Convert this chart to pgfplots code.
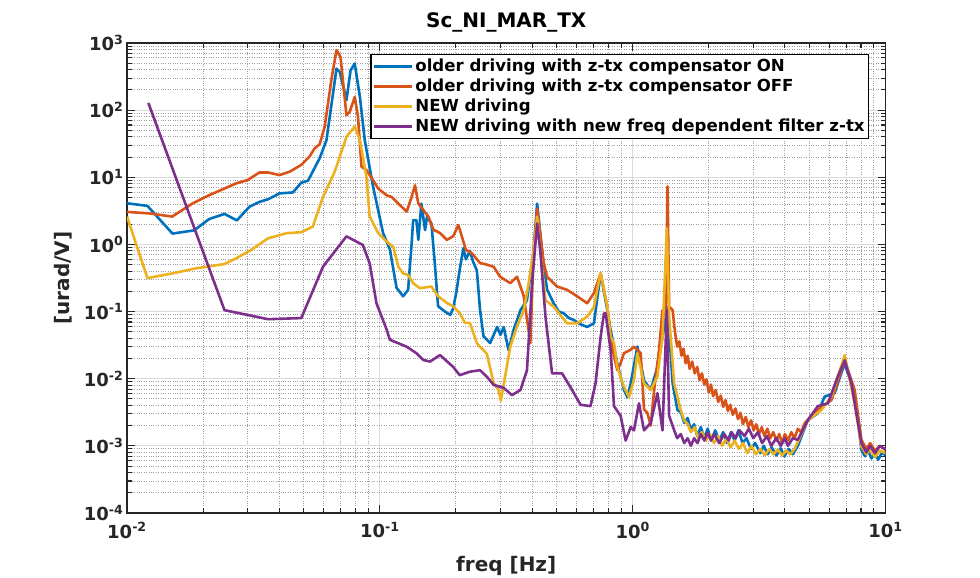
\documentclass[border=0pt]{standalone}
\usepackage{fontspec}
\setmainfont{DejaVu Sans}
\usepackage{pgfplots}
\pgfplotsset{compat=1.18}
\definecolor{mblue}{rgb}{0,0.447,0.741}
\definecolor{morange}{rgb}{0.850,0.325,0.098}
\definecolor{myellow}{rgb}{0.929,0.694,0.125}
\definecolor{mpurple}{rgb}{0.494,0.184,0.556}
\definecolor{axgray}{rgb}{0.15,0.15,0.15}
\begin{document}
\begin{tikzpicture}
\path[use as bounding box] (0,0) rectangle (980pt,578pt);
\begin{axis}[
  at={(127pt,65pt)}, anchor=south west,
  width=758.5pt, height=470pt, scale only axis,
  xmode=log, ymode=log,
  xmin=0.01, xmax=10, ymin=1e-4, ymax=1e3,
  xtick={0.01,0.1,1,10},
  xticklabels={10\textsuperscript{-2},10\textsuperscript{-1},10\textsuperscript{0},10\textsuperscript{1}},
  minor xtick={0.02,0.03,0.04,0.05,0.06,0.07,0.08,0.09,0.2,0.3,0.4,0.5,0.6,0.7,0.8,0.9,2,3,4,5,6,7,8,9},
  ytick={1e-4,1e-3,1e-2,1e-1,1,10,100,1000},
  yticklabels={10\textsuperscript{-4},10\textsuperscript{-3},10\textsuperscript{-2},10\textsuperscript{-1},10\textsuperscript{0},10\textsuperscript{1},10\textsuperscript{2},10\textsuperscript{3}},
  minor ytick={2e-4,3e-4,4e-4,5e-4,6e-4,7e-4,8e-4,9e-4,
    2e-3,3e-3,4e-3,5e-3,6e-3,7e-3,8e-3,9e-3,
    2e-2,3e-2,4e-2,5e-2,6e-2,7e-2,8e-2,9e-2,
    0.2,0.3,0.4,0.5,0.6,0.7,0.8,0.9,
    2,3,4,5,6,7,8,9,20,30,40,50,60,70,80,90,200,300,400,500,600,700,800,900},
  grid=both,
  major grid style={solid, color=black!14, line width=1.1pt},
  minor grid style={dotted, color=black!38, line width=0.9pt},
  tick align=inside,
  major tick length=8pt, minor tick length=5pt,
  every tick/.style={color=axgray, line width=1.1pt},
  axis line style={color=axgray, line width=1.5pt},
  ticklabel style={font=\bfseries\fontsize{18}{21}\selectfont, color=axgray},
  xticklabel style={yshift=-6pt},
  title={Sc\_NI\_MAR\_TX},
  title style={at={(axis description cs:0.5,1)}, anchor=base, yshift=9pt, font=\bfseries\fontsize{20}{24}\selectfont},
  xlabel={freq [Hz]},
  xlabel style={at={(axis description cs:0.5,0)}, anchor=base, yshift=-58pt, font=\bfseries\fontsize{20}{24}\selectfont, color=axgray},
  ylabel={[urad/V]},
  ylabel style={at={(axis description cs:-0.0752,0.5)}, anchor=base, font=\bfseries\fontsize{20}{24}\selectfont, color=axgray},
  legend cell align=left,
  legend style={at={(axis description cs:0.3204,0.9766)}, anchor=north west,
    font=\bfseries\fontsize{16.6}{19}\selectfont, draw=black, line width=1.5pt, fill=white,
    inner xsep=2pt, inner ysep=2pt,
    nodes={inner xsep=2pt, inner ysep=0.5pt, text height=14pt, text depth=5pt}},
  legend image code/.code={\draw[#1, line width=2.6pt] (0pt,0pt) -- (38pt,0pt);},
  every axis plot/.append style={line width=2.6pt, line join=round},
]
\addplot[mblue] coordinates {
(0.01,4.1) (0.01205,3.75) (0.01513,1.45) (0.01845,1.62) (0.0211,2.38) (0.0243,2.85)
(0.0272,2.28) (0.0305,3.64) (0.0334,4.3) (0.0361,4.7) (0.0401,5.75) (0.0453,5.95)
(0.0489,8.3) (0.052,8.9) (0.0578,19.2) (0.0615,35.5) (0.0674,415) (0.0694,372)
(0.0738,141) (0.0766,390) (0.0796,495) (0.0834,157) (0.0872,35.5) (0.094,7.3)
(0.103,1.48) (0.1096,0.84) (0.1165,0.225) (0.1236,0.169) (0.1294,0.211) (0.1336,1.04)
(0.1355,2.3) (0.1395,2.3) (0.142,1.17) (0.146,4.05) (0.151,1.63) (0.1535,2.56)
(0.160,2.05) (0.165,0.52) (0.170,0.12) (0.181,0.10) (0.190,0.089) (0.195,0.111)
(0.201,0.2) (0.207,0.42) (0.214,0.88) (0.219,0.6) (0.227,0.8) (0.234,0.55)
(0.242,0.41) (0.249,0.107) (0.257,0.043) (0.273,0.034) (0.291,0.059) (0.300,0.045)
(0.309,0.059) (0.323,0.0265) (0.338,0.053) (0.360,0.105) (0.382,0.148) (0.406,0.83)
(0.419,4.05) (0.431,1.47) (0.445,0.465) (0.459,0.211) (0.487,0.133) (0.51,0.1) (0.534,0.094)
(0.56,0.08) (0.585,0.075) (0.62,0.065) (0.661,0.059) (0.703,0.067) (0.747,0.37) (0.794,0.105)
(0.818,0.053) (0.844,0.030) (0.869,0.017) (0.924,0.0068) (0.953,0.0053) (0.982,0.0085)
(1.044,0.030) (1.109,0.0095) (1.179,0.0068) (1.253,0.015) (1.312,0.042) (1.374,0.117)
(1.439,0.0085) (1.504,0.0034) (1.55,0.0032) (1.6,0.0022) (1.65,0.0026) (1.7,0.0017)
(1.75,0.0021) (1.8,0.0014) (1.86,0.0019) (1.92,0.0013) (1.98,0.0018) (2.05,0.0012)
(2.12,0.0017) (2.2,0.0012) (2.28,0.0016) (2.36,0.0011) (2.45,0.0016) (2.53,0.0012)
(2.62,0.0017) (2.72,0.0011) (2.82,0.0013) (2.94,0.0009) (3.05,0.0011) (3.2,0.00078)
(3.3,0.001) (3.42,0.00075) (3.55,0.00095) (3.7,0.00072) (3.85,0.00092) (3.98,0.0007)
(4.15,0.0009) (4.3,0.00075) (4.50,0.001)
(4.93,0.00243) (5.40,0.00305) (5.74,0.0054) (6.29,0.0061) (6.89,0.0168) (7.55,0.0061)
(8.03,0.00087) (8.3,0.0007) (8.53,0.00085) (8.8,0.00065) (9.1,0.0008) (9.35,0.00062)
(9.7,0.0008) (10,0.00072)
};
\addlegendentry{older driving with z-tx compensator ON}
\addplot[morange] coordinates {
(0.01,3.05) (0.0122,2.9) (0.0151,2.6) (0.01815,4.07) (0.0211,5.4) (0.0243,6.8)
(0.027,8.1) (0.030,9.1) (0.0334,11.8) (0.0361,11.8) (0.0401,10.8) (0.044,12.1)
(0.0489,15.3) (0.0527,20.3) (0.0552,26.9) (0.0578,31) (0.0605,56) (0.0643,280)
(0.0674,785) (0.0699,620) (0.0738,84) (0.076,94) (0.0796,157) (0.082,79)
(0.0846,14.4) (0.0885,12.8) (0.094,9.1) (0.0985,6.8) (0.1064,5.4) (0.1113,5.1)
(0.1165,4.3) (0.1277,3.08) (0.1336,5.1) (0.1377,7.6) (0.142,4.07) (0.1486,3.25)
(0.1556,2.6) (0.163,1.65) (0.173,1.48) (0.184,1.17) (0.195,1.32) (0.2045,1.95)
(0.211,1.32) (0.219,0.83) (0.231,0.74) (0.249,0.53) (0.265,0.50) (0.282,0.465)
(0.299,0.33) (0.328,0.265) (0.349,0.33) (0.371,0.169) (0.394,0.034) (0.406,0.83)
(0.419,3.4) (0.445,0.53) (0.459,0.33) (0.502,0.236) (0.550,0.211) (0.603,0.169)
(0.661,0.133) (0.703,0.189) (0.747,0.37) (0.794,0.118) (0.818,0.043) (0.844,0.0215)
(0.869,0.0135) (0.896,0.017) (0.924,0.024) (0.982,0.027) (1.012,0.030) (1.076,0.024)
(1.109,0.0035) (1.143,0.0031) (1.179,0.0020) (1.216,0.0068) (1.272,0.027) (1.312,0.105)
(1.352,0.084) (1.374,7.3) (1.394,0.118) (1.439,0.105) (1.47,0.05) (1.50,0.030)
(1.53,0.036) (1.56,0.022) (1.59,0.028) (1.62,0.017) (1.65,0.022) (1.68,0.014)
(1.72,0.018) (1.76,0.012) (1.80,0.015) (1.84,0.0095) (1.88,0.012) (1.92,0.0082)
(1.96,0.0098) (2.00,0.0062) (2.04,0.0082) (2.08,0.0055) (2.13,0.0068) (2.18,0.0045)
(2.23,0.0056) (2.28,0.0038) (2.33,0.0048) (2.38,0.0033) (2.43,0.0041) (2.49,0.0029)
(2.55,0.0036) (2.61,0.0025) (2.67,0.0031) (2.73,0.0021) (2.80,0.0027) (2.87,0.0019)
(2.94,0.0024) (3.01,0.0017) (3.08,0.0021) (3.16,0.0015) (3.24,0.0019) (3.32,0.0014)
(3.41,0.0018) (3.5,0.0013) (3.6,0.0016) (3.7,0.0012) (3.8,0.0015) (3.9,0.0011)
(4.0,0.0015) (4.12,0.0012) (4.24,0.0016) (4.37,0.0013) (4.5,0.0018) (4.64,0.0016)
(4.8,0.0022) (5.08,0.0027) (5.57,0.0038) (6.11,0.0048) (6.90,0.0188)
(7.55,0.0068) (8.03,0.00123) (8.4,0.0009) (8.7,0.0011) (9.08,0.00085) (9.5,0.001) (10,0.00088)
};
\addlegendentry{older driving with z-tx compensator OFF}
\addplot[myellow] coordinates {
(0.01,2.6) (0.01205,0.315) (0.0151,0.37) (0.0187,0.44) (0.0243,0.51) (0.027,0.62)
(0.031,0.83) (0.0361,1.23) (0.0427,1.47) (0.0489,1.52) (0.0543,1.84) (0.0596,5.1)
(0.0663,12.1) (0.0738,40) (0.0796,57) (0.0834,35.5) (0.0885,10.2) (0.0912,2.6)
(0.0985,1.48) (0.1064,1.1) (0.113,0.92) (0.1184,0.465) (0.1236,0.37) (0.1294,0.35)
(0.1355,0.265) (0.144,0.223) (0.160,0.236) (0.170,0.169) (0.184,0.135) (0.195,0.12)
(0.207,0.095) (0.217,0.068) (0.227,0.068) (0.242,0.034) (0.249,0.030) (0.265,0.0235)
(0.282,0.0086) (0.295,0.0068) (0.301,0.0047) (0.313,0.0108) (0.328,0.030) (0.349,0.060)
(0.371,0.105) (0.388,0.265) (0.406,0.83) (0.419,2.6) (0.431,0.83) (0.452,0.148)
(0.487,0.118) (0.550,0.067) (0.603,0.067) (0.661,0.084) (0.703,0.118) (0.747,0.38)
(0.794,0.118) (0.818,0.042) (0.844,0.034) (0.869,0.015) (0.924,0.0076) (0.967,0.0053)
(1.012,0.0096) (1.044,0.024) (1.109,0.0085) (1.179,0.0068) (1.253,0.0108) (1.312,0.042)
(1.365,1.75) (1.394,0.084) (1.46,0.0085) (1.55,0.0034) (1.6,0.0024) (1.65,0.0021)
(1.7,0.0016) (1.76,0.0019) (1.82,0.0013) (1.88,0.0016) (1.95,0.0012) (2.02,0.0015)
(2.1,0.0011) (2.18,0.0014) (2.26,0.001) (2.35,0.0013) (2.44,0.00095) (2.53,0.0012)
(2.63,0.0009) (2.73,0.0011) (2.84,0.00078) (2.95,0.001) (3.07,0.00075) (3.2,0.0009)
(3.33,0.00072) (3.47,0.0009) (3.6,0.00075) (3.75,0.00088) (3.9,0.00072) (4.05,0.00085)
(4.2,0.00075) (4.37,0.0009)
(4.93,0.00243) (5.57,0.0034) (6.11,0.0054) (6.90,0.0225) (7.55,0.0043) (8.03,0.00098)
(8.4,0.00075) (8.7,0.0009) (9.08,0.00068) (9.5,0.00085) (10,0.00078)
};
\addlegendentry{NEW driving}
\addplot[mpurple] coordinates {
(0.01215,128) (0.0243,0.105) (0.0361,0.077) (0.0489,0.080) (0.0596,0.465) (0.0738,1.32)
(0.0857,0.98) (0.0912,0.52) (0.097,0.133) (0.1064,0.054) (0.1096,0.038) (0.1277,0.030)
(0.1395,0.024) (0.1486,0.019) (0.158,0.018) (0.173,0.0225) (0.195,0.015) (0.207,0.0113)
(0.227,0.0127) (0.249,0.0134) (0.265,0.0107) (0.282,0.0081) (0.309,0.0073) (0.333,0.0057)
(0.360,0.0068) (0.382,0.0134) (0.400,0.265) (0.419,2.05) (0.431,0.83) (0.452,0.084)
(0.480,0.012) (0.526,0.012) (0.576,0.0068) (0.622,0.0041) (0.681,0.0039) (0.713,0.0085)
(0.747,0.042) (0.770,0.094) (0.782,0.094) (0.818,0.027) (0.844,0.0039) (0.896,0.0028)
(0.938,0.0012) (0.982,0.0019) (1.012,0.0017) (1.059,0.0043) (1.109,0.0017) (1.179,0.0022)
(1.253,0.0061) (1.312,0.0017) (1.365,0.105) (1.394,0.0028) (1.46,0.0017) (1.5,0.0013)
(1.55,0.0015) (1.6,0.0011) (1.65,0.0013) (1.7,0.001) (1.75,0.0013) (1.806,0.0011)
(1.86,0.0015) (1.92,0.0012) (1.98,0.0016) (2.04,0.0012) (2.1,0.0015) (2.2,0.0011)
(2.3,0.0015) (2.4,0.0012) (2.46,0.0016) (2.55,0.0013) (2.65,0.0017) (2.77,0.0014)
(2.88,0.0018) (3.0,0.0013) (3.13,0.0016) (3.25,0.0011) (3.4,0.0014) (3.53,0.001)
(3.7,0.0013) (3.85,0.001) (4.0,0.0013) (4.11,0.001) (4.3,0.0013) (4.50,0.00123)
(4.93,0.00243) (5.40,0.0039)
(5.92,0.0043) (6.49,0.011) (6.90,0.0188) (7.33,0.0085) (8.03,0.00110) (8.4,0.0008)
(8.7,0.001) (9.08,0.00078) (9.5,0.001) (10,0.00088)
};
\addlegendentry{NEW driving with new freq dependent filter z-tx}
\end{axis}
\end{tikzpicture}
\end{document}
